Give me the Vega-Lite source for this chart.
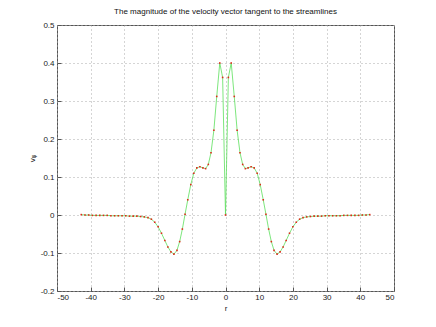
{
  "$schema": "https://vega.github.io/schema/vega-lite/v6.json",
  "autosize": {"type": "none"},
  "width": 337,
  "height": 266,
  "padding": {"left": 57, "top": 25, "right": 42, "bottom": 36},
  "background": "white",
  "title": {"text": "The magnitude of the velocity vector tangent to the streamlines", "font": "Liberation Sans", "fontSize": 8, "fontWeight": "normal", "color": "#111", "offset": 5, "anchor": "middle"},
  "config": {
    "view": {"stroke": "#555", "strokeWidth": 1},
    "axis": {
      "domain": false,
      "grid": true,
      "gridColor": "#aaa",
      "gridDash": [1, 3],
      "gridOpacity": 1,
      "tickColor": "#555",
      "tickSize": -4,
      "labelFont": "Liberation Sans",
      "labelFontSize": 8,
      "labelColor": "#222",
      "titleFont": "Liberation Sans",
      "titleFontSize": 8,
      "titleFontWeight": "normal",
      "titleColor": "#222"
    }
  },
  "data": {"values": [
    {"r": -42.8, "v": 0.001}, {"r": -41.7, "v": 0.0}, {"r": -40.6, "v": 0.0}, {"r": -39.5, "v": -0.001}, {"r": -38.4, "v": -0.001},
    {"r": -37.3, "v": -0.001}, {"r": -36.2, "v": -0.001}, {"r": -35.1, "v": -0.001}, {"r": -34.0, "v": -0.002}, {"r": -32.9, "v": -0.002},
    {"r": -31.8, "v": -0.002}, {"r": -30.7, "v": -0.002}, {"r": -29.6, "v": -0.002}, {"r": -28.5, "v": -0.003}, {"r": -27.4, "v": -0.003},
    {"r": -26.3, "v": -0.003}, {"r": -25.2, "v": -0.004}, {"r": -24.1, "v": -0.005}, {"r": -23.0, "v": -0.007}, {"r": -22.0, "v": -0.011},
    {"r": -21.0, "v": -0.019}, {"r": -20.0, "v": -0.031}, {"r": -19.0, "v": -0.048}, {"r": -18.0, "v": -0.067}, {"r": -17.1, "v": -0.084},
    {"r": -16.2, "v": -0.097}, {"r": -15.3, "v": -0.103}, {"r": -14.4, "v": -0.093}, {"r": -13.6, "v": -0.070}, {"r": -12.8, "v": -0.037},
    {"r": -12.0, "v": 0.002}, {"r": -11.2, "v": 0.040}, {"r": -10.3, "v": 0.080}, {"r": -9.4, "v": 0.110}, {"r": -8.5, "v": 0.124},
    {"r": -7.6, "v": 0.127}, {"r": -6.7, "v": 0.124}, {"r": -5.9, "v": 0.122}, {"r": -5.1, "v": 0.133}, {"r": -4.3, "v": 0.164},
    {"r": -3.45, "v": 0.223}, {"r": -2.6, "v": 0.312}, {"r": -1.7, "v": 0.400}, {"r": -0.85, "v": 0.362}, {"r": 0, "v": 0.0},
    {"r": 0.85, "v": 0.362}, {"r": 1.7, "v": 0.400}, {"r": 2.6, "v": 0.312}, {"r": 3.45, "v": 0.223}, {"r": 4.3, "v": 0.164},
    {"r": 5.1, "v": 0.133}, {"r": 5.9, "v": 0.122}, {"r": 6.7, "v": 0.124}, {"r": 7.6, "v": 0.127}, {"r": 8.5, "v": 0.124},
    {"r": 9.4, "v": 0.110}, {"r": 10.3, "v": 0.080}, {"r": 11.2, "v": 0.040}, {"r": 12.0, "v": 0.002}, {"r": 12.8, "v": -0.037},
    {"r": 13.6, "v": -0.070}, {"r": 14.4, "v": -0.093}, {"r": 15.3, "v": -0.103}, {"r": 16.2, "v": -0.097}, {"r": 17.1, "v": -0.084},
    {"r": 18.0, "v": -0.067}, {"r": 19.0, "v": -0.048}, {"r": 20.0, "v": -0.031}, {"r": 21.0, "v": -0.019}, {"r": 22.0, "v": -0.011},
    {"r": 23.0, "v": -0.007}, {"r": 24.1, "v": -0.005}, {"r": 25.2, "v": -0.004}, {"r": 26.3, "v": -0.003}, {"r": 27.4, "v": -0.003},
    {"r": 28.5, "v": -0.003}, {"r": 29.6, "v": -0.002}, {"r": 30.7, "v": -0.002}, {"r": 31.8, "v": -0.002}, {"r": 32.9, "v": -0.002},
    {"r": 34.0, "v": -0.002}, {"r": 35.1, "v": -0.001}, {"r": 36.2, "v": -0.001}, {"r": 37.3, "v": -0.001}, {"r": 38.4, "v": -0.001},
    {"r": 39.5, "v": -0.001}, {"r": 40.6, "v": 0.0}, {"r": 41.7, "v": 0.0}, {"r": 42.8, "v": 0.001}
  ]},
  "encoding": {
    "x": {"field": "r", "type": "quantitative", "scale": {"domain": [-50, 50], "nice": false, "zero": false},
          "axis": {"values": [-50, -40, -30, -20, -10, 0, 10, 20, 30, 40, 50], "title": "r", "labelExpr": "'' + datum.value", "titlePadding": 3, "labelPadding": 6}},
    "y": {"field": "v", "type": "quantitative", "scale": {"domain": [-0.2, 0.5], "nice": false, "zero": false},
          "axis": {"values": [-0.2, -0.1, 0, 0.1, 0.2, 0.3, 0.4, 0.5], "title": "vᵩ", "labelExpr": "'' + round(datum.value * 10) / 10", "titlePadding": 4, "labelPadding": 7}}
  },
  "layer": [
    {"mark": {"type": "line", "color": "#5ce05c", "strokeWidth": 0.8}},
    {"mark": {"type": "square", "color": "#e02818", "size": 2.5, "opacity": 1, "filled": true}}
  ]
}
